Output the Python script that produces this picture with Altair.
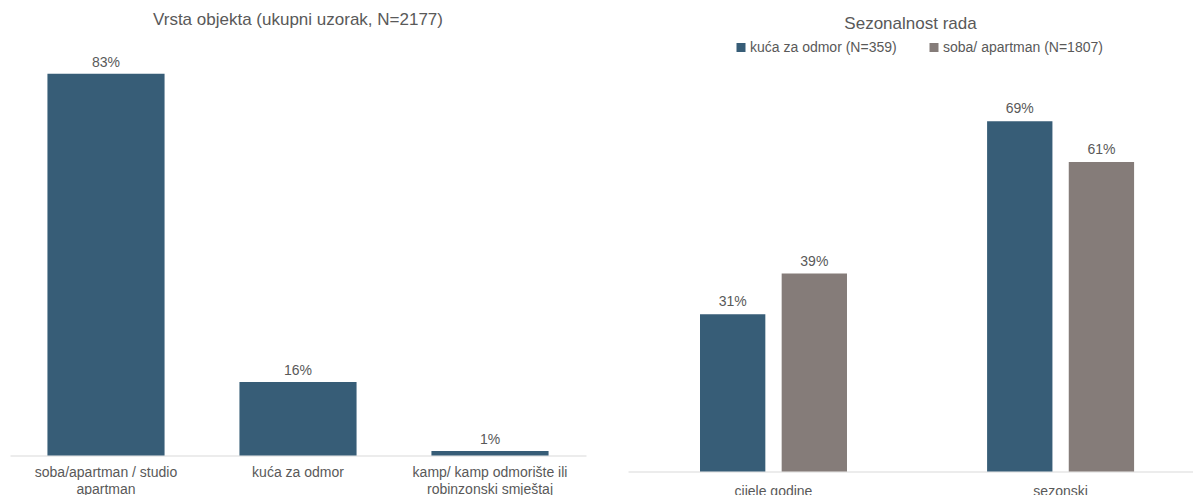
import altair as alt
import pandas as pd

# Left chart data
types = ["soba/apartman / studio|apartman", "kuća za odmor", "kamp/ kamp odmorište ili|robinzonski smještaj"]
type_share = [0.83, 0.16, 0.01]

# Right chart data
seasons = ["cijele godine", "cijele godine", "sezonski", "sezonski"]
series = ["kuća za odmor (N=359)", "soba/ apartman (N=1807)", "kuća za odmor (N=359)", "soba/ apartman (N=1807)"]
season_share = [0.31, 0.39, 0.69, 0.61]

series_order = ["kuća za odmor (N=359)", "soba/ apartman (N=1807)"]
season_order = ["cijele godine", "sezonski"]

BLUE = "#375d77"
GRAY = "#857c79"
TXT = "#595959"
FONT = "Liberation Sans"

df1 = pd.DataFrame({"type": types, "share": type_share})
df2 = pd.DataFrame({"season": seasons, "series": series, "share": season_share})


def xaxis(pad):
    return alt.Axis(title=None, labelAngle=0, ticks=False, domainColor="#d9d9d9", domainWidth=1,
                    labelColor=TXT, labelFontSize=14, labelFont=FONT, labelPadding=pad,
                    labelExpr="split(datum.label, '|')", labelLineHeight=17, labelLimit=250)


base1 = alt.Chart(df1).encode(
    x=alt.X("type:N", sort=types, axis=xaxis(9.5),
            scale=alt.Scale(paddingInner=0.39, paddingOuter=0.195)),
    y=alt.Y("share:Q", axis=None, scale=alt.Scale(domain=[0, 0.848], nice=False)),
)
bars1 = base1.mark_bar(color=BLUE)
text1 = base1.mark_text(dy=-11, fontSize=14, font=FONT, color=TXT).encode(
    text=alt.Text("share:Q", format=".0%"))
left = (bars1 + text1).properties(
    width=576, height=390,
    title=alt.TitleParams("Vrsta objekta (ukupni uzorak, N=2177)", fontSize=17,
                          font=FONT, fontWeight="normal", color=TXT, offset=27),
)

base2 = alt.Chart(df2).encode(
    x=alt.X("season:N", sort=season_order, axis=xaxis(13),
            scale=alt.Scale(paddingInner=0.488, paddingOuter=0.228, align=0.55)),
    xOffset=alt.XOffset("series:N", sort=series_order,
                        scale=alt.Scale(paddingInner=0.2, paddingOuter=0)),
    y=alt.Y("share:Q", axis=None, scale=alt.Scale(domain=[0, 0.8], nice=False)),
)
bars2 = base2.mark_bar().encode(
    color=alt.Color("series:N", sort=series_order,
                    scale=alt.Scale(domain=series_order, range=[BLUE, GRAY]),
                    legend=alt.Legend(title=None, orient="none", direction="horizontal",
                                      legendX=106, legendY=-25, symbolType="square",
                                      symbolSize=81, symbolStrokeWidth=0,
                                      labelFontSize=14, labelFont=FONT, labelColor=TXT,
                                      columnPadding=30, symbolOffset=0, labelOffset=2))
)
text2 = base2.mark_text(dy=-12, fontSize=14, font=FONT, color=TXT).encode(
    text=alt.Text("share:Q", format=".0%"))
right = (bars2 + text2).properties(
    width=565, height=406,
    title=alt.TitleParams("Sezonalnost rada", fontSize=17, font=FONT,
                          fontWeight="normal", color=TXT, offset=8),
)

chart = alt.hconcat(left, right, spacing=42).resolve_scale(
    x="independent", y="independent", color="independent"
).configure_view(stroke=None).properties(padding={"left": 2, "top": 2.5, "right": 0, "bottom": 0})

chart.save("out.html", embed_options={"renderer": "svg", "actions": False})
